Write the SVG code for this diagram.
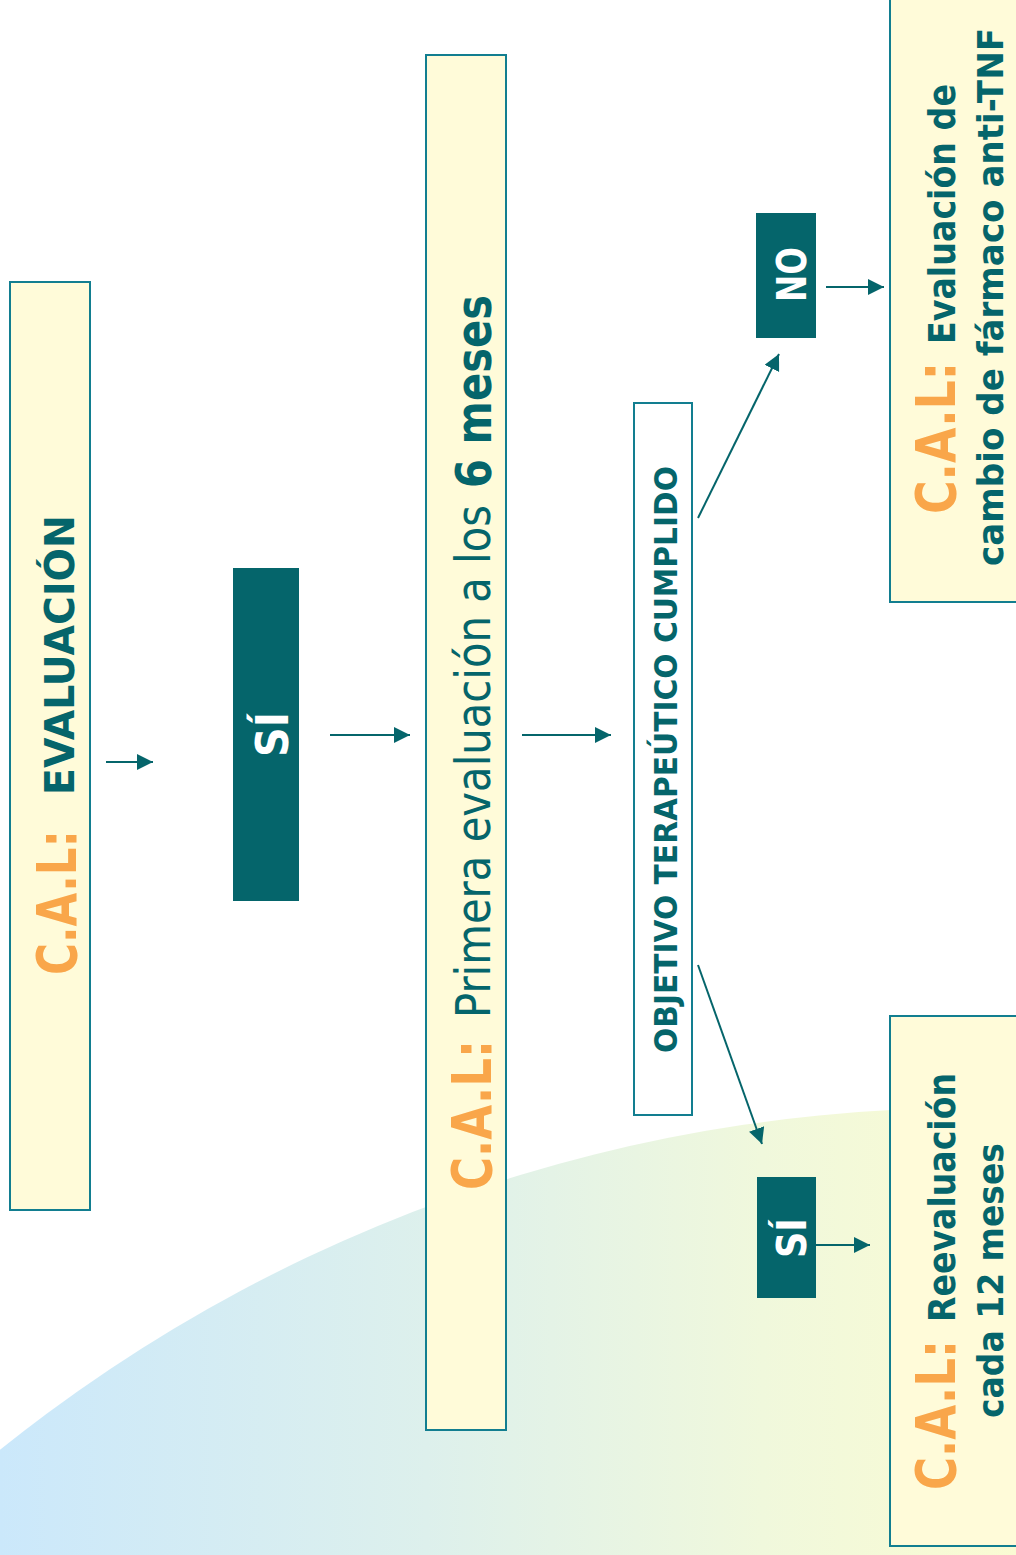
<svg xmlns="http://www.w3.org/2000/svg" width="1016" height="1555" viewBox="0 0 1016 1555">
<defs>
<linearGradient id="bg" gradientUnits="userSpaceOnUse" x1="0" y1="0" x2="1016" y2="0">
<stop offset="0" stop-color="#CBE8FB"/>
<stop offset="0.42" stop-color="#DDF0EC"/>
<stop offset="0.75" stop-color="#F0F8DC"/>
<stop offset="1" stop-color="#FAFBD3"/>
</linearGradient>
<marker id="ah" markerWidth="18" markerHeight="18" refX="16" refY="8" orient="auto" markerUnits="userSpaceOnUse">
<path d="M0,0 L16,8 L0,16 z" fill="#05656B"/>
</marker>
<style>
.box{fill:#FFFBD9;stroke:#127E90;stroke-width:2}
.wbox{fill:#FFFFFF;stroke:#127E90;stroke-width:2}
.dbox{fill:#05656B}
.t{font-family:"DejaVu Sans","Liberation Sans",sans-serif}
.b{font-weight:bold}
.or{fill:#F9A64A}
.tl{fill:#05656B}
.wh{fill:#FFFFFF}
.con line{stroke:#05656B;stroke-width:2;fill:none}
</style>
</defs>
<rect width="1016" height="1555" fill="#FFFFFF"/>
<circle cx="971" cy="2658" r="1550" fill="url(#bg)"/>

<g id="n-evaluacion">
<rect class="box" x="10" y="282" width="80" height="928"/>
<text class="t b or" font-size="55" transform="translate(76,975) rotate(-90)" textLength="145" lengthAdjust="spacingAndGlyphs">C.A.L:</text>
<text class="t b tl" font-size="41" transform="translate(74,795) rotate(-90)" textLength="280" lengthAdjust="spacingAndGlyphs">EVALUACIÓN</text>
</g>

<g id="n-si1">
<rect class="dbox" x="233" y="568" width="66" height="333"/>
<text class="t b wh" font-size="44" transform="translate(288,757) rotate(-90)" textLength="45" lengthAdjust="spacingAndGlyphs">SÍ</text>
</g>

<g id="n-primera">
<rect class="box" x="426" y="55" width="80" height="1375"/>
<text class="t b or" font-size="55" transform="translate(491,1190) rotate(-90)" textLength="150" lengthAdjust="spacingAndGlyphs">C.A.L:</text>
<text class="t tl" font-size="48" transform="translate(490,1018) rotate(-90)" textLength="513" lengthAdjust="spacingAndGlyphs">Primera evaluación a los</text>
<text class="t b tl" font-size="50" transform="translate(491,488) rotate(-90)" textLength="193" lengthAdjust="spacingAndGlyphs">6 meses</text>
</g>

<g id="n-objetivo">
<rect class="wbox" x="634" y="403" width="58" height="712"/>
<text class="t b tl" font-size="32" transform="translate(677,1053) rotate(-90)" textLength="587" lengthAdjust="spacingAndGlyphs">OBJETIVO TERAPEÚTICO CUMPLIDO</text>
</g>

<g id="n-no">
<rect class="dbox" x="756" y="213" width="60" height="125"/>
<text class="t b wh" font-size="40" transform="translate(806,302) rotate(-90)" textLength="55" lengthAdjust="spacingAndGlyphs">NO</text>
</g>

<g id="n-si2">
<rect class="dbox" x="757" y="1177" width="59" height="121"/>
<text class="t b wh" font-size="40" transform="translate(806,1258) rotate(-90)" textLength="40" lengthAdjust="spacingAndGlyphs">SÍ</text>
</g>

<g id="n-cambio">
<rect class="box" x="890" y="-5" width="140" height="607"/>
<text class="t b or" font-size="55" transform="translate(955,514) rotate(-90)" textLength="152" lengthAdjust="spacingAndGlyphs">C.A.L:</text>
<text class="t b tl" font-size="38" transform="translate(955,344) rotate(-90)" textLength="260" lengthAdjust="spacingAndGlyphs">Evaluación de</text>
<text class="t b tl" font-size="36" transform="translate(1003,566) rotate(-90)" textLength="538" lengthAdjust="spacingAndGlyphs">cambio de fármaco anti-TNF</text>
</g>

<g id="n-reevaluacion">
<rect class="box" x="890" y="1016" width="140" height="530"/>
<text class="t b or" font-size="55" transform="translate(955,1490) rotate(-90)" textLength="150" lengthAdjust="spacingAndGlyphs">C.A.L:</text>
<text class="t b tl" font-size="38" transform="translate(955,1322) rotate(-90)" textLength="249" lengthAdjust="spacingAndGlyphs">Reevaluación</text>
<text class="t b tl" font-size="36" transform="translate(1003,1418) rotate(-90)" textLength="275" lengthAdjust="spacingAndGlyphs">cada 12 meses</text>
</g>

<g id="connectors" class="con">
<line x1="106" y1="762" x2="153" y2="762" marker-end="url(#ah)"/>
<line x1="330" y1="735" x2="410" y2="735" marker-end="url(#ah)"/>
<line x1="522" y1="735" x2="611" y2="735" marker-end="url(#ah)"/>
<line x1="698" y1="518" x2="779" y2="354" marker-end="url(#ah)"/>
<line x1="698" y1="965" x2="762" y2="1144" marker-end="url(#ah)"/>
<line x1="826" y1="287" x2="884" y2="287" marker-end="url(#ah)"/>
<line x1="816" y1="1245" x2="870" y2="1245" marker-end="url(#ah)"/>
</g>
</svg>
